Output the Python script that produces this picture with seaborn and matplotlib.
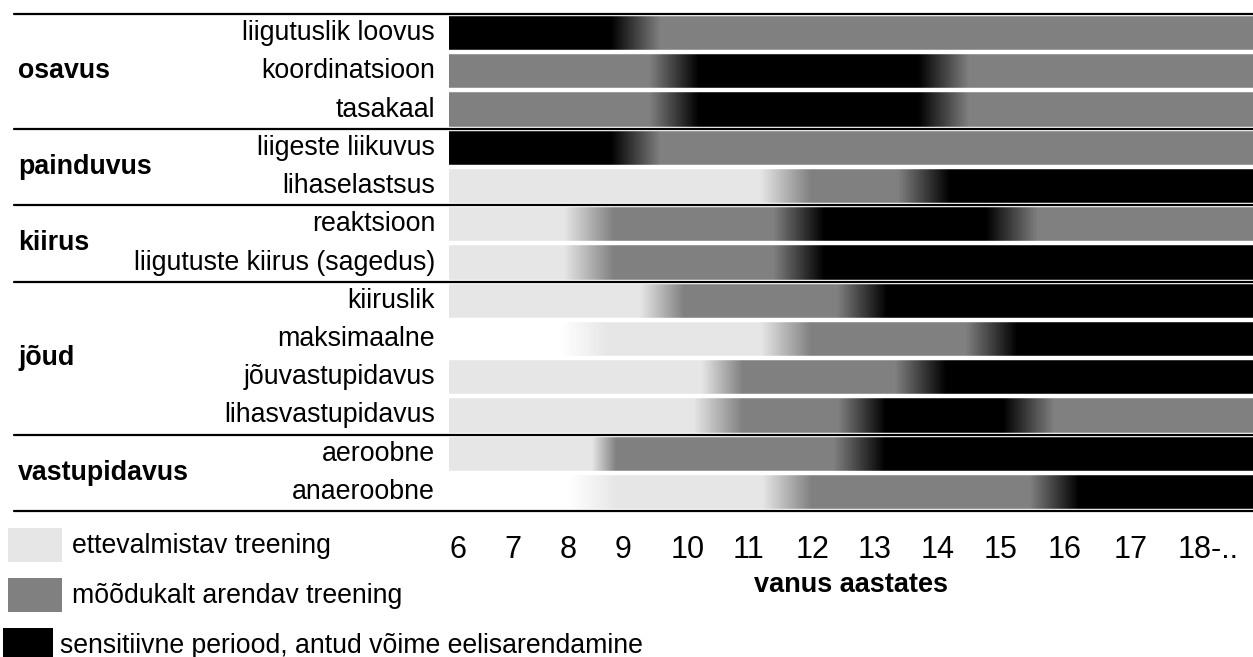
import numpy as np
import pandas as pd
import matplotlib
matplotlib.use("Agg")
import matplotlib.pyplot as plt
import seaborn as sns
from matplotlib import transforms
from matplotlib.patches import Rectangle
from matplotlib.lines import Line2D

# rows of the chart (top to bottom) and their groups
rows = ["liigutuslik loovus", "koordinatsioon", "tasakaal",
        "liigeste liikuvus", "lihaselastsus",
        "reaktsioon", "liigutuste kiirus (sagedus)",
        "kiiruslik", "maksimaalne", "jõuvastupidavus", "lihasvastupidavus",
        "aeroobne", "anaeroobne"]
groups = ["osavus", "painduvus", "kiirus", "jõud", "vastupidavus"]
group_sizes = [3, 2, 2, 4, 2]

# levels: 0 = none, 1 = ettevalmistav, 2 = mõõdukalt arendav, 3 = sensitiivne
# each row: ages where a transition starts/ends, and the level at those ages
stop_ages = [
    [8.50, 9.31],
    [9.13, 9.94, 13.53, 14.36],
    [9.13, 9.94, 13.53, 14.36],
    [8.50, 9.31],
    [10.94, 11.78, 13.20, 14.05],
    [7.73, 8.55, 11.16, 11.99, 14.64, 15.49],
    [7.73, 8.55, 11.16, 11.99],
    [8.98, 9.70, 12.20, 13.02],
    [7.65, 8.45, 10.96, 11.78, 14.31, 15.15],
    [9.98, 10.66, 13.15, 13.99],
    [9.85, 10.66, 12.22, 13.00, 14.92, 15.75],
    [8.19, 8.59, 12.15, 12.99],
    [7.78, 8.59, 10.98, 11.79, 15.36, 16.16],
]
stop_levels = [
    [3, 2],
    [2, 3, 3, 2],
    [2, 3, 3, 2],
    [3, 2],
    [1, 2, 2, 3],
    [1, 2, 2, 3, 3, 2],
    [1, 2, 2, 3],
    [1, 2, 2, 3],
    [0, 1, 1, 2, 2, 3],
    [1, 2, 2, 3],
    [1, 2, 2, 3, 3, 2],
    [1, 2, 2, 3],
    [0, 1, 1, 2, 2, 3],
]
level_gray = [1.0, 0.9, 0.5, 0.0]

age_min, age_max = 5.85, 19.01
tick_ages = [6.0, 6.9, 7.8, 8.7, 9.75, 10.75, 11.8, 12.82, 13.85, 14.88, 15.93, 17.0, 18.28]
tick_labels = ["6", "7", "8", "9", "10", "11", "12", "13", "14", "15", "16", "17", "18-.."]

legend_labels = ["ettevalmistav treening", "mõõdukalt arendav treening",
                 "sensitiivne periood, antud võime eelisarendamine"]

sns.set_theme(style="white")
plt.rcParams["font.family"] = ["Liberation Sans", "DejaVu Sans"]
plt.rcParams["text.color"] = "black"
plt.rcParams["axes.labelcolor"] = "black"
plt.rcParams["xtick.color"] = "black"
plt.rcParams["ytick.color"] = "black"

W, H = 1253, 657
fig = plt.figure(figsize=(W / 100, H / 100), dpi=100)
ax = fig.add_axes([449 / W, 1 - 511 / H, (W - 449) / W, (511 - 14) / H])

# fine grid so the transitions show as gradients
n_cols = 804
step = (age_max - age_min) / n_cols
grid = age_min + (np.arange(n_cols) + 0.5) * step
mat = [np.interp(grid, xs, [level_gray[l] for l in lv])
       for xs, lv in zip(stop_ages, stop_levels)]
df = pd.DataFrame(mat, index=rows)

sns.heatmap(df, ax=ax, cmap="gray", vmin=0, vmax=1, cbar=False,
            xticklabels=False, yticklabels=True, rasterized=True)

# white gaps between rows
ax.hlines(np.arange(0, len(rows) + 1), 0, n_cols, colors="white", lw=3.2)

ax.set_xticks([(a - age_min) / step for a in tick_ages])
ax.set_xticklabels(tick_labels, rotation=0, fontsize=22)
ax.set_yticklabels(rows, rotation=0, fontsize=19.3)
ax.tick_params(axis="both", length=0)
ax.tick_params(axis="x", pad=17)
ax.tick_params(axis="y", pad=10)
for s in ax.spines.values():
    s.set_visible(False)

ax.set_xlabel("vanus aastates", fontsize=19.5, fontweight="bold")
ax.xaxis.set_label_coords(0.5, -0.122)

# group separator lines and group names
trans = transforms.blended_transform_factory(fig.transFigure, ax.transData)
bounds = np.concatenate([[0], np.cumsum(group_sizes)])
for b in bounds:
    ax.add_line(Line2D([14 / W, 1], [b, b], transform=trans, color="black",
                       lw=1.6, clip_on=False))
for g, lo, hi in zip(groups, bounds[:-1], bounds[1:]):
    fig.text(18 / W, (lo + hi) / 2, g, transform=trans, fontsize=19.3,
             fontweight="bold", ha="left", va="center")

# legend
legend_boxes = [(8, 528, 54, 34), (8, 578, 54, 34), (3, 628, 50, 34)]
legend_text_x = [72, 72, 60]
for lvl, (x, y, w, h), tx, lab in zip([1, 2, 3], legend_boxes, legend_text_x, legend_labels):
    c = str(level_gray[lvl])
    fig.add_artist(Rectangle((x / W, 1 - (y + h) / H), w / W, h / H,
                             transform=fig.transFigure, color=c, lw=0))
    fig.text(tx / W, 1 - (y + 18) / H, lab, fontsize=19.2, ha="left", va="center")

fig.savefig("out.png", dpi=100)
